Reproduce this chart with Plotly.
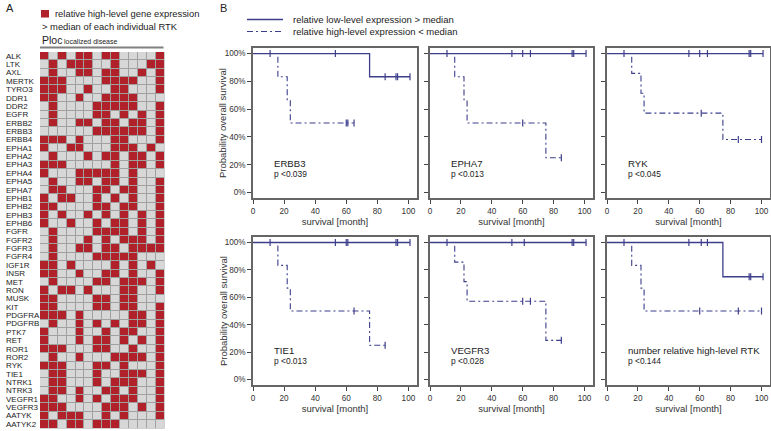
import plotly.graph_objects as go

W, H = 771, 431
FONT = "Liberation Sans, Arial"

# ---------------- Panel A data ----------------
GENES = ["ALK", "LTK", "AXL", "MERTK", "TYRO3", "DDR1", "DDR2", "EGFR", "ERBB2", "ERBB3",
         "ERBB4", "EPHA1", "EPHA2", "EPHA3", "EPHA4", "EPHA5", "EPHA7", "EPHB1", "EPHB2",
         "EPHB3", "EPHB6", "FGFR", "FGFR2", "FGFR3", "FGFR4", "IGF1R", "INSR", "MET", "RON",
         "MUSK", "KIT", "PDGFRA", "PDGFRB", "PTK7", "RET", "ROR1", "ROR2", "RYK", "TIE1",
         "NTRK1", "NTRK3", "VEGFR1", "VEGFR3", "AATYK", "AATYK2"]
HIGH_EXPR = ["10101101100001", "01011100100011", "01001101100101", "11100001111001",
             "11100100110001", "11001001111000", "01000011111001", "01000011010101",
             "01001101101101", "00000011111101", "11101000110001", "10011000111010",
             "01000101101101", "11100000101101", "10001111101000", "01001101101001",
             "01100011011001", "10110010101001", "11000011011001", "10100101010101",
             "10010010110101", "01000011110101", "01000101011101", "01001101101111",
             "01000011111000", "11010000101010", "11001001101001", "01000011011101",
             "10110100011001", "11000011011000", "11000011011001", "11101000001101",
             "01001010101101", "10001001011001", "10001011010101", "11100011001001",
             "01001000111101", "11100011010001", "01100010011101", "01100010111001",
             "01101001101001", "11001010111001", "11100001110101", "10111001010001",
             "11011011100000"]

# ---------------- Panel B data ----------------
PANEL_NAMES = ["ERBB3", "EPHA7", "RYK", "TIE1", "VEGFR3", "number relative high-level RTK"]
PVALUES = ["p <0.039", "p <0.013", "p <0.045", "p <0.013", "p <0.028", "p <0.144"]
LOW_T = [[0, 75, 101], [0, 101], [0, 101], [0, 101], [0, 101], [0, 75, 101]]
LOW_S = [[100, 83.3, 83.3], [100, 100], [100, 100], [100, 100], [100, 100], [100, 75, 75]]
LOW_CENSOR = [[11, 53, 85, 92, 93, 101], [11, 53, 60, 65, 92, 93, 101],
              [11, 53, 60, 65, 92, 93, 101], [11, 53, 60, 61, 92, 93, 101],
              [11, 53, 61, 92, 93, 101], [11, 53, 61, 65, 92, 93, 101]]
HIGH_T = [[0, 16, 22, 24, 65], [0, 16, 22, 24, 75, 85], [0, 16, 22, 24, 75, 100],
          [0, 16, 22, 24, 75, 85], [0, 16, 22, 24, 75, 85], [0, 16, 22, 24, 100]]
HIGH_S = [[100, 83.3, 66.7, 50, 50], [100, 83.3, 66.7, 50, 25, 25],
          [100, 85.7, 71.4, 57.1, 38.1, 38.1], [100, 83.3, 66.7, 50, 25, 25],
          [100, 85.7, 71.4, 57.1, 28.6, 28.6], [100, 83.3, 66.7, 50, 50]]
HIGH_CENSOR = [[60, 61, 65], [60, 85], [61, 85, 100], [65, 85], [60, 65, 85], [60, 85, 100]]
X_TICKS = [0, 20, 40, 60, 80, 100]
Y_TICKS = [0, 20, 40, 60, 80, 100]
Y_TICKTEXT = ["0%", "20%", "40%", "60%", "80%", "100%"]
LEGEND_LABELS = ["relative low-level expression > median",
                 "relative high-level expression < median"]

RED = "#b0212a"
GREY = "#d7d7d7"
NAVY = "#3d3f8c"
DASH = "6px,3px,2px,3px"


def px(x):
    return x / W


def py(y):
    return 1 - y / H


def surv_at(ts, ss, t):
    val = ss[0]
    for tt, s in zip(ts, ss):
        if tt <= t:
            val = s
    return val


fig = go.Figure()

# Heatmap
z = [[int(c) for c in row] for row in HIGH_EXPR]
fig.add_trace(go.Heatmap(
    z=z, x=list(range(14)), y=list(range(len(GENES))),
    colorscale=[[0, GREY], [0.5, GREY], [0.5, RED], [1, RED]],
    zmin=0, zmax=1, showscale=False, xgap=1, ygap=1, hoverinfo="skip",
    xaxis="x", yaxis="y"))

layout = dict(
    width=W, height=H, margin=dict(l=0, r=0, t=0, b=0, autoexpand=False),
    paper_bgcolor="white", plot_bgcolor="white", showlegend=False,
    font=dict(family=FONT, color="#222"),
    xaxis=dict(domain=[px(40), px(164.5)], range=[-0.5, 13.5], visible=False, anchor="y",
               automargin=False),
    yaxis=dict(domain=[py(428.5), py(52)], range=[len(GENES) - 0.5, -0.5], visible=False,
               anchor="x", automargin=False),
)

shapes = [
    dict(type="rect", xref="x domain", yref="y domain", x0=0, x1=1, y0=0, y1=1,
         fillcolor="#a0a0a0", line=dict(width=0), layer="below"),
    dict(type="rect", xref="paper", yref="paper", x0=px(41), x1=px(49), y0=py(17.5), y1=py(10),
         fillcolor=RED, line=dict(width=0)),
    dict(type="line", xref="paper", yref="paper", x0=px(40), x1=px(163.5), y0=py(47.5), y1=py(47.5),
         line=dict(color="#808080", width=2)),
    dict(type="line", xref="paper", yref="paper", x0=px(247), x1=px(283), y0=py(19.5), y1=py(19.5),
         line=dict(color=NAVY, width=1.3)),
    dict(type="line", xref="paper", yref="paper", x0=px(247), x1=px(283), y0=py(31.5), y1=py(31.5),
         line=dict(color=NAVY, width=1.1, dash=DASH)),
]

annotations = []
for i, g in enumerate(GENES):
    annotations.append(dict(text=g, xref="paper", yref="y", x=px(4), y=i, xanchor="left",
                            yanchor="middle", showarrow=False, font=dict(size=8, color="#222")))

annotations += [
    dict(text="A", xref="paper", yref="paper", x=px(4), y=py(8), xanchor="left", yanchor="middle",
         showarrow=False, font=dict(size=11)),
    dict(text="B", xref="paper", yref="paper", x=px(218), y=py(8), xanchor="left", yanchor="middle",
         showarrow=False, font=dict(size=11)),
    dict(text="relative high-level gene expression", xref="paper", yref="paper", x=px(53), y=py(14),
         xanchor="left", yanchor="middle", showarrow=False, font=dict(size=9.4)),
    dict(text="> median of each individual RTK", xref="paper", yref="paper", x=px(40), y=py(26),
         xanchor="left", yanchor="middle", showarrow=False, font=dict(size=9.4)),
    dict(text="Ploc", xref="paper", yref="paper", x=px(39.5), y=py(40.5), xanchor="left",
         yanchor="middle", showarrow=False, font=dict(size=10.5)),
    dict(text="localized disease", xref="paper", yref="paper", x=px(62), y=py(41.5), xanchor="left",
         yanchor="middle", showarrow=False, font=dict(size=7)),
]
for k, lab in enumerate(LEGEND_LABELS):
    annotations.append(dict(text=lab, xref="paper", yref="paper", x=px(291), y=py(19.5 + 12 * k),
                            xanchor="left", yanchor="middle", showarrow=False, font=dict(size=9.5)))

COLS = [(253, 417), (430, 593), (607, 770)]
ROWS = [(48, 198), (237, 385)]

for i in range(6):
    r, c = divmod(i, 3)
    n = i + 2
    xa, ya = f"x{n}", f"y{n}"
    x0, x1 = COLS[c]
    y0, y1 = ROWS[r]
    axis_common = dict(showline=True, mirror=True, linecolor="#666", linewidth=1.5,
                       ticks="outside", ticklen=4, tickcolor="#444", tickwidth=1,
                       showgrid=False, zeroline=False, automargin=False,
                       tickfont=dict(size=8.2, color="#333", family=FONT))
    layout[f"xaxis{n}"] = dict(domain=[px(x0), px(x1)], range=[0, 105.5], anchor=ya,
                               tickvals=X_TICKS,
                               title=dict(text="survival [month]", standoff=2,
                                          font=dict(size=9.5, color="#333")),
                               **axis_common)
    layout[f"yaxis{n}"] = dict(domain=[py(y1), py(y0)], range=[-4, 104], anchor=xa,
                               tickvals=Y_TICKS, ticktext=Y_TICKTEXT,
                               showticklabels=(c == 0), **axis_common)
    if c == 0:
        annotations.append(dict(text="Probability overall survival", xref="paper",
                                yref=f"{ya} domain", x=px(223), y=0.5, textangle=-90,
                                xanchor="center", yanchor="middle", showarrow=False,
                                font=dict(size=9.5, color="#333")))

    # curves
    fig.add_trace(go.Scatter(x=HIGH_T[i], y=HIGH_S[i], mode="lines", line_shape="hv",
                             line=dict(color=NAVY, width=1.1, dash=DASH),
                             xaxis=xa, yaxis=ya, hoverinfo="skip"))
    fig.add_trace(go.Scatter(x=LOW_T[i], y=LOW_S[i], mode="lines", line_shape="hv",
                             line=dict(color=NAVY, width=1.3), xaxis=xa, yaxis=ya,
                             hoverinfo="skip"))
    for cens, ts, ss in ((HIGH_CENSOR[i], HIGH_T[i], HIGH_S[i]),
                         (LOW_CENSOR[i], LOW_T[i], LOW_S[i])):
        fig.add_trace(go.Scatter(x=cens, y=[surv_at(ts, ss, t) for t in cens],
                                 mode="markers",
                                 marker=dict(symbol="line-ns-open", size=5, color=NAVY,
                                             line=dict(color=NAVY, width=1.2)),
                                 xaxis=xa, yaxis=ya, hoverinfo="skip"))

    annotations.append(dict(text=PANEL_NAMES[i], xref=xa, yref=ya, x=12, y=21, xanchor="left",
                            yanchor="middle", showarrow=False, font=dict(size=9.6, color="#222")))
    annotations.append(dict(text=PVALUES[i], xref=xa, yref=ya, x=12, y=13.5, xanchor="left",
                            yanchor="middle", showarrow=False, font=dict(size=8.4, color="#222")))

layout["shapes"] = shapes
layout["annotations"] = annotations
fig.update_layout(**layout)
fig.write_html("out.html", config={"displayModeBar": False},
               post_script="document.body.style.margin='0';document.body.style.padding='0';")
